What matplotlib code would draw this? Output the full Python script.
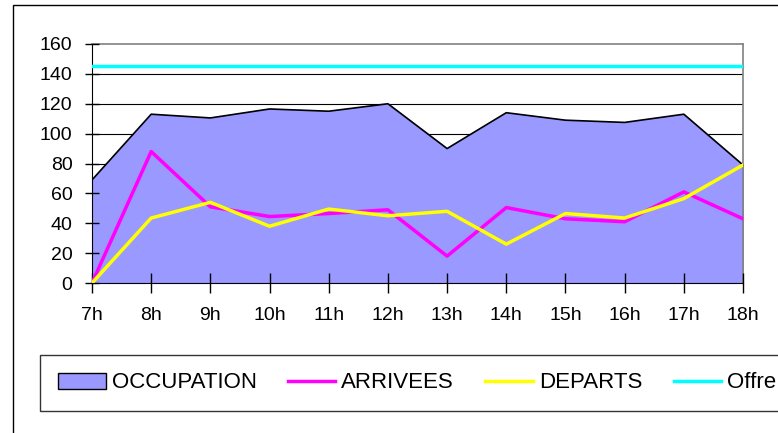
import numpy as np
import matplotlib
matplotlib.use('Agg')
import matplotlib.pyplot as plt
from matplotlib.patches import Rectangle, Patch
from matplotlib.lines import Line2D

hours = ['7h', '8h', '9h', '10h', '11h', '12h', '13h', '14h', '15h', '16h', '17h', '18h']
occupation = [69, 113, 110.5, 116.5, 115, 120, 90, 114, 109, 107.5, 113, 79]
arrivees = [0, 88, 51, 44.5, 46.5, 49, 18, 50.5, 43, 41, 61, 43]
departs = [0, 43.5, 54, 38, 49.5, 45, 48, 26, 46.5, 43.5, 56.5, 79]
offre = [145] * 12

plt.rcParams['font.family'] = ['Liberation Sans', 'DejaVu Sans']

fig = plt.figure(figsize=[7.78, 4.33], dpi=100)
fig.patches.append(Rectangle((13 / 778, -0.1), 1.0, (433 - 5) / 433 + 0.1,
                             transform=fig.transFigure, fill=False,
                             edgecolor='black', linewidth=1))

ax = fig.add_axes([92 / 778, (433 - 283) / 433, (743 - 92) / 778, (283 - 44) / 433])
x = np.arange(len(hours))

ax.fill_between(x, occupation, 0, color='#9999ff', zorder=1)
ax.plot(x, occupation, color='black', linewidth=1.2, zorder=2)
ax.plot(x, arrivees, color='#ff00ff', linewidth=2.5, zorder=3)
ax.plot(x, departs, color='#ffff00', linewidth=2.5, zorder=4)
ax.plot(x, offre, color='#00ffff', linewidth=2.5, zorder=5)

ax.set_xlim(0, len(hours) - 1)
ax.set_ylim(0, 160)
ax.set_yticks(range(0, 161, 20))
ax.set_xticks(x)
ax.set_xticklabels(hours)
ax.tick_params(axis='both', labelsize=14, width=1, color='black')
ax.tick_params(axis='y', direction='inout', length=10, pad=9)
ax.tick_params(axis='x', direction='inout', length=14, pad=10)
for yv in range(20, 160, 20):
    ax.axhline(yv, color='black', linewidth=0.8, zorder=0.5)
ax.spines['top'].set_color('#808080')
ax.spines['right'].set_color('#808080')
ax.spines['top'].set_linewidth(1.2)
ax.spines['right'].set_linewidth(1.2)
ax.set_axisbelow(False)

handles = [Patch(facecolor='#9999ff', edgecolor='black', linewidth=1),
           Line2D([], [], color='#ff00ff', linewidth=2.5),
           Line2D([], [], color='#ffff00', linewidth=2.5),
           Line2D([], [], color='#00ffff', linewidth=2.5)]
labels = ['OCCUPATION', 'ARRIVEES', 'DEPARTS', 'Offre']
leg = fig.legend(handles, labels, loc='center left', ncol=4,
                 bbox_to_anchor=(40 / 778, (433 - 383) / 433),
                 frameon=True, fancybox=False, fontsize=16,
                 handlelength=2.15, handletextpad=0.27, columnspacing=1.4,
                 borderpad=0.8, borderaxespad=0, edgecolor='black')
leg.get_frame().set_linewidth(1)

plt.savefig('out.png', dpi=100)
